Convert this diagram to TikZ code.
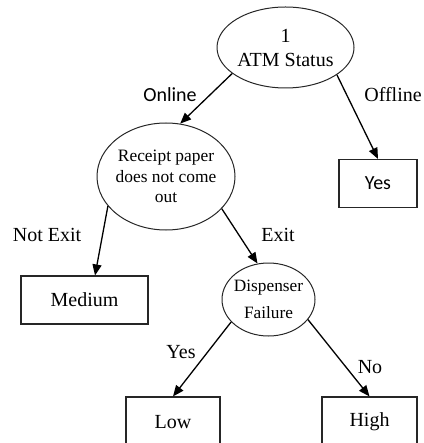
\documentclass[tikz,border=0pt]{standalone}
\usepackage{fontspec}
\setmainfont{Liberation Serif}
\setsansfont{Carlito}
\usetikzlibrary{arrows.meta,positioning,shapes.geometric}

\begin{document}
\begin{tikzpicture}[
 x=1pt,y=-1pt,on grid,
 decision/.style={draw=black!85,ellipse,line width=1pt,inner sep=-3pt,align=center},
 leaf/.style={draw=black!85,line width=1.1pt,minimum height=48pt,inner sep=0pt,font=\fontsize{20}{24}\selectfont},
 lbl/.style={inner sep=0pt,font=\fontsize{20}{24}\selectfont},
 flow/.style={-{Triangle[length=11pt,width=9pt]},draw=black,line width=1.3pt}
]
\path[use as bounding box,clip] (0,0) rectangle (423,443);
\node[decision,minimum width=137pt,minimum height=81pt,font=\fontsize{20}{24}\selectfont] (status) at (285.5,47.5) {1\\ATM Status};
\node[decision,minimum width=138pt,minimum height=107pt,font=\fontsize{17.4}{20.5}\selectfont,below left=129pt and 119.5pt of status] (receipt) {Receipt paper\\does not come\\out};
\node[leaf,minimum width=78pt,font=\sffamily\fontsize{20}{24}\selectfont,below right=136pt and 92.5pt of status] (yes) {Yes};
\node[leaf,minimum width=127pt,below left=123.5pt and 81.5pt of receipt] (medium) {Medium};
\node[decision,minimum width=93pt,minimum height=73pt,font=\fontsize{17.3}{27}\selectfont,below right=123pt and 102.5pt of receipt] (dispenser) {Dispenser\\Failure};
\node[leaf,minimum width=94pt,minimum height=50pt,below left=122.5pt and 95.5pt of dispenser] (low) {Low};
\node[leaf,minimum width=95pt,minimum height=50pt,below right=122.5pt and 101pt of dispenser] (high) {High};
% branch labels
\node[lbl,font=\sffamily\fontsize{20}{24}\selectfont,below left=47.5pt and 115.5pt of status] (online) {Online};
\node[lbl,below right=47.5pt and 107.5pt of status] (offline) {Offline};
\node[lbl,below left=58.5pt and 119pt of receipt] (notexit) {Not Exit};
\node[lbl,below right=58.5pt and 112pt of receipt] (exit) {Exit};
\node[lbl,below left=52.5pt and 87.5pt of dispenser] (yeslbl) {Yes};
\node[lbl,below right=67.5pt and 101.5pt of dispenser] (nolbl) {No};
\draw[flow] (status.206) -- (receipt.75);
\draw[flow] (status.332) -- (yes.north);
\draw[flow] (receipt.207) -- ([xshift=10.5pt]medium.north);
\draw[flow] (receipt.330) -- (dispenser.107);
\draw[flow] (dispenser.211) -- (low.north);
\draw[flow] (dispenser.333) -- (high.north);
\end{tikzpicture}
\end{document}
